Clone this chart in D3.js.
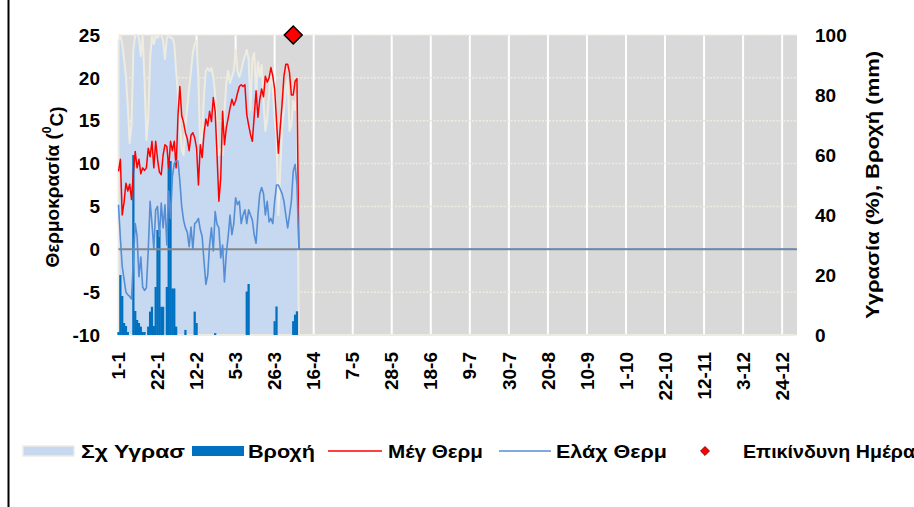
<!DOCTYPE html>
<html>
<head>
<meta charset="utf-8">
<script src="https://cdn.jsdelivr.net/npm/d3@7"></script>
<style>
  body { margin: 0; background: #fff; }
  svg { display: block; font-family: "Liberation Sans", Arial, sans-serif; font-weight: bold; }
</style>
</head>
<body>
<script>
// chart size and plot box
const SIZE = { width: 914, height: 507 };
const PLOT = { left: 118.5, right: 797, top: 35, bottom: 335 };
const YEAR_DAYS = 365;

// x axis labels, one every 21 days starting 1-1
const tickLabels = ['1-1', '22-1', '12-2', '5-3', '26-3', '16-4', '7-5', '28-5', '18-6',
    '9-7', '30-7', '20-8', '10-9', '1-10', '22-10', '12-11', '3-12', '24-12'];
const tickStep = 21;

const leftTicks = [-10, -5, 0, 5, 10, 15, 20, 25];
const rightTicks = [0, 20, 40, 60, 80, 100];

// daily values from 1-1 (days recorded so far)
const maxTemp = [9.1, 10.5, 4.0, 5.5, 7.7, 6.8, 7.6, 5.8, 9.0, 11.4,
    9.5, 10.5, 8.8, 9.5, 9.2, 9.5, 11.8, 10.8, 12.6, 9.5,
    12.6, 10.5, 9.0, 8.7, 11.0, 12.2, 12.0, 9.5, 12.6, 11.5,
    12.6, 9.5, 15.6, 19.0, 15.6, 14.8, 13.6, 12.9, 11.5, 13.3,
    13.6, 13.0, 11.8, 7.5, 12.2, 10.7, 13.5, 15.2, 14.4, 16.1,
    14.9, 17.7, 16.1, 11.0, 5.6, 8.3, 16.1, 12.2, 14.2, 15.3,
    16.5, 17.5, 16.8, 17.3, 18.2, 19.0, 19.2, 19.0, 19.2, 15.7,
    14.5, 13.4, 12.6, 15.5, 18.5, 15.4, 17.5, 18.7, 17.8, 20.2,
    19.5, 20.0, 21.2, 20.2, 18.7, 15.0, 11.2, 14.2, 17.0, 20.2,
    21.6, 21.6, 20.6, 18.0, 18.0, 19.6, 19.9];

const minTemp = [5.2, 1.3, -2.0, -3.5, -5.0, -5.3, -5.5, -5.8, -1.2, 3.0,
    1.5, -3.2, -0.9, -4.4, -4.8, -4.5, -0.1, 5.6, 3.0, 0.0,
    4.6, 5.0, 1.5, 5.4, 2.5, 5.2, 0.5, 6.8, 3.6, 8.5,
    10.0, 10.3, 10.3, 8.0, 5.0, 3.4, 2.5, 2.0, 0.3, 2.6,
    0.0, 3.0, 3.2, 3.6, 2.3, 1.5, -1.4, -4.1, -3.0, 0.5,
    2.5, -0.2, 4.4, 2.9, 2.5, -1.0, 0.5, -3.8, -0.5, 1.5,
    4.0, 1.7, 3.0, 6.0, 5.2, 5.6, 3.0, 4.0, 4.6, 3.0,
    4.6, 4.0, 3.4, 1.7, 0.7, 4.0, 6.5, 7.2, 6.5, 4.0,
    5.6, 3.2, 3.6, 3.0, 5.6, 7.5, 7.5, 7.0, 6.5, 5.6,
    4.0, 2.5, 4.0, 5.6, 9.1, 9.9, 7.5];

const humidity = [98, 100, 97, 92, 86, 76, 64, 70, 95, 100,
    100, 99, 93, 100, 85, 65, 72, 92, 100, 97,
    100, 99, 100, 100, 98, 92, 99, 100, 99, 99,
    97, 88, 80, 70, 62, 60, 70, 76, 82, 88,
    94, 97, 98, 85, 62, 67, 80, 88, 89, 88,
    89, 86, 80, 68, 60, 62, 60, 74, 84, 88,
    84, 86, 88, 95, 88, 86, 88, 91, 93, 95,
    92, 75, 92, 94, 80, 91, 86, 90, 78, 68,
    72, 80, 88, 82, 72, 66, 40, 55, 69, 75,
    82, 85, 68, 70, 78, 75, 80];

const rain = [1, 20, 13, 4, 3, 1, 0, 0, 60, 8,
    5, 4, 2.8, 1, 1, 0, 2.8, 7.8, 9.4, 3,
    16, 35, 35, 9.4, 9.4, 0, 16, 58, 58, 15.5,
    15.5, 2.8, 0, 0, 0, 0, 1.7, 0, 0, 0,
    0, 7.8, 4, 0, 0, 0, 0, 0, 0, 0,
    0, 0, 0.6, 0, 0, 0, 0, 0, 0, 0,
    0, 0, 0, 0, 0, 0, 0, 0, 0, 14.5,
    17, 0, 0, 0, 0, 0, 0, 0, 0, 0,
    0, 0, 0, 0, 4.6, 9.5, 0, 0, 0, 0,
    0, 0, 0, 0, 4.6, 6.8, 7.9];

const dangerDays = [94];
const dangerLevel = 100;

// the sheet holds 0 for the days of the year not yet recorded
const fullYear = arr => arr.concat(new Array(YEAR_DAYS - arr.length).fill(0));

const COLORS = {
    plotBg: '#d9d9d9',
    grid: '#eeece1',
    humidFill: '#c6d9f1',
    humidLine: '#eeece1',
    rain: '#0070c0',
    maxT: '#ff0000',
    minT: '#558ed5',
    zero: '#868686'
};

const svg = d3.select('body').append('svg')
    .attr('width', SIZE.width)
    .attr('height', SIZE.height);

const x = d3.scaleLinear([0, YEAR_DAYS], [PLOT.left, PLOT.right]);
const yLeft = d3.scaleLinear([-10, 25], [PLOT.bottom, PLOT.top]);
const yRight = d3.scaleLinear([0, 100], [PLOT.bottom, PLOT.top]);

// plot background
svg.append('rect')
    .attr('x', PLOT.left).attr('y', PLOT.top)
    .attr('width', PLOT.right - PLOT.left)
    .attr('height', PLOT.bottom - PLOT.top)
    .attr('fill', COLORS.plotBg);

// vertical gridlines
svg.append('g')
    .selectAll('line')
    .data(tickLabels.map((_, i) => i * tickStep))
    .join('line')
    .attr('x1', d => x(d)).attr('x2', d => x(d))
    .attr('y1', PLOT.top).attr('y2', PLOT.bottom)
    .attr('stroke', '#fff')
    .attr('stroke-width', 2);

// horizontal dotted gridlines
svg.append('g')
    .selectAll('line')
    .data(leftTicks)
    .join('line')
    .attr('x1', PLOT.left).attr('x2', PLOT.right)
    .attr('y1', d => yLeft(d)).attr('y2', d => yLeft(d))
    .attr('stroke', COLORS.grid)
    .attr('stroke-width', 1.5)
    .attr('stroke-dasharray', '2,1.5');

const days = d3.range(YEAR_DAYS);
const hum = fullYear(humidity);

// humidity area
svg.append('path')
    .datum(days)
    .attr('d', d3.area()
        .x(d => x(d))
        .y0(yRight(0))
        .y1(d => yRight(hum[d])))
    .attr('fill', COLORS.humidFill)
    .attr('stroke', COLORS.humidLine)
    .attr('stroke-width', 2)
    .attr('stroke-linejoin', 'round');

// rain columns
const barW = x(1) - x(0) + 0.4;
svg.append('g')
    .selectAll('rect')
    .data(rain.map((v, i) => ({ day: i, v })).filter(d => d.v > 0))
    .join('rect')
    .attr('x', d => x(d.day) - barW / 2)
    .attr('y', d => yRight(d.v))
    .attr('width', barW)
    .attr('height', d => yRight(0) - yRight(d.v))
    .attr('fill', COLORS.rain);

// zero axis
svg.append('line')
    .attr('x1', PLOT.left).attr('x2', PLOT.right)
    .attr('y1', yLeft(0)).attr('y2', yLeft(0))
    .attr('stroke', COLORS.zero)
    .attr('stroke-width', 2);

// lastDay limits how far the line is drawn (the zero tail of the max
// series sits under the min series anyway)
const tempLine = (arr, lastDay) => {
    const full = fullYear(arr);
    return d3.line()
        .defined(d => d <= lastDay)
        .x(d => x(d))
        .y(d => yLeft(full[d]))(days);
};

svg.append('path')
    .attr('d', tempLine(maxTemp, maxTemp.length))
    .attr('fill', 'none')
    .attr('stroke', COLORS.maxT)
    .attr('stroke-width', 1.5)
    .attr('stroke-linejoin', 'round');

svg.append('path')
    .attr('d', tempLine(minTemp, YEAR_DAYS))
    .attr('fill', 'none')
    .attr('stroke', COLORS.minT)
    .attr('stroke-width', 1.6)
    .attr('stroke-linejoin', 'round');

// danger day markers
const diamond = d3.symbol().type(d3.symbolSquare);
svg.append('g')
    .selectAll('path')
    .data(dangerDays)
    .join('path')
    .attr('d', diamond.size(160))
    .attr('transform', d => `translate(${x(d)},${yRight(dangerLevel)}) rotate(45)`)
    .attr('fill', '#ff0000')
    .attr('stroke', '#000')
    .attr('stroke-width', 1.5);

// axes text
const fontSize = 19;
svg.append('g')
    .selectAll('text')
    .data(leftTicks)
    .join('text')
    .attr('x', 100)
    .attr('y', d => yLeft(d))
    .attr('dy', '0.35em')
    .attr('text-anchor', 'end')
    .attr('font-size', fontSize)
    .text(d => d);

svg.append('g')
    .selectAll('text')
    .data(rightTicks)
    .join('text')
    .attr('x', 815)
    .attr('y', d => yRight(d))
    .attr('dy', '0.35em')
    .attr('font-size', fontSize)
    .text(d => d);

svg.append('g')
    .selectAll('text')
    .data(tickLabels)
    .join('text')
    .attr('transform', (d, i) => `translate(${x(i * tickStep)},352) rotate(-90)`)
    .attr('dy', '0.35em')
    .attr('text-anchor', 'end')
    .attr('font-size', fontSize)
    .text(d => d);

const leftTitle = svg.append('text')
    .attr('transform', 'translate(52,187) rotate(-90)')
    .attr('dy', '0.35em')
    .attr('text-anchor', 'middle')
    .attr('font-size', fontSize);
leftTitle.append('tspan').text('Θερμοκρασία (');
leftTitle.append('tspan').attr('font-size', 12).attr('dy', '-0.6em').text('0');
leftTitle.append('tspan').attr('dy', '0.6em').text('C)');

svg.append('text')
    .attr('transform', 'translate(872,185) rotate(-90)')
    .attr('dy', '0.35em')
    .attr('text-anchor', 'middle')
    .attr('font-size', fontSize)
    .attr('textLength', 268)
    .attr('lengthAdjust', 'spacingAndGlyphs')
    .text('Υγρασία (%), Βροχή (mm)');

// legend
const legendY = 451;
const legend = svg.append('g');
legend.append('rect')
    .attr('x', 23).attr('y', legendY - 5).attr('width', 51).attr('height', 10)
    .attr('fill', COLORS.humidFill).attr('stroke', COLORS.humidLine).attr('stroke-width', 1.5);
legend.append('rect')
    .attr('x', 192).attr('y', legendY - 5).attr('width', 52).attr('height', 10)
    .attr('fill', COLORS.rain);
legend.append('line')
    .attr('x1', 328).attr('x2', 382).attr('y1', legendY).attr('y2', legendY)
    .attr('stroke', COLORS.maxT).attr('stroke-width', 1.6);
legend.append('line')
    .attr('x1', 499).attr('x2', 551).attr('y1', legendY).attr('y2', legendY)
    .attr('stroke', COLORS.minT).attr('stroke-width', 1.4);
legend.append('path')
    .attr('d', d3.symbol().type(d3.symbolSquare).size(40)())
    .attr('transform', `translate(705,${legendY}) rotate(45)`)
    .attr('fill', '#ff0000').attr('stroke', '#600').attr('stroke-width', 0.8);

const legendText = [
    { x: 81, w: 104, label: 'Σχ Υγρασ' },
    { x: 248, w: 67, label: 'Βροχή' },
    { x: 388, w: 95, label: 'Μέγ Θερμ' },
    { x: 556, w: 111, label: 'Ελάχ Θερμ' },
    { x: 743, w: 172, label: 'Επικίνδυνη Ημέρα' }
];
legend.selectAll('text')
    .data(legendText)
    .join('text')
    .attr('x', d => d.x)
    .attr('y', legendY)
    .attr('dy', '0.35em')
    .attr('font-size', fontSize)
    .attr('textLength', d => d.w)
    .attr('lengthAdjust', 'spacingAndGlyphs')
    .text(d => d.label);

// chart frame (left edge visible)
svg.append('line')
    .attr('x1', 8.5).attr('x2', 8.5).attr('y1', 0).attr('y2', SIZE.height)
    .attr('stroke', '#000').attr('stroke-width', 2);
</script>
</body>
</html>
